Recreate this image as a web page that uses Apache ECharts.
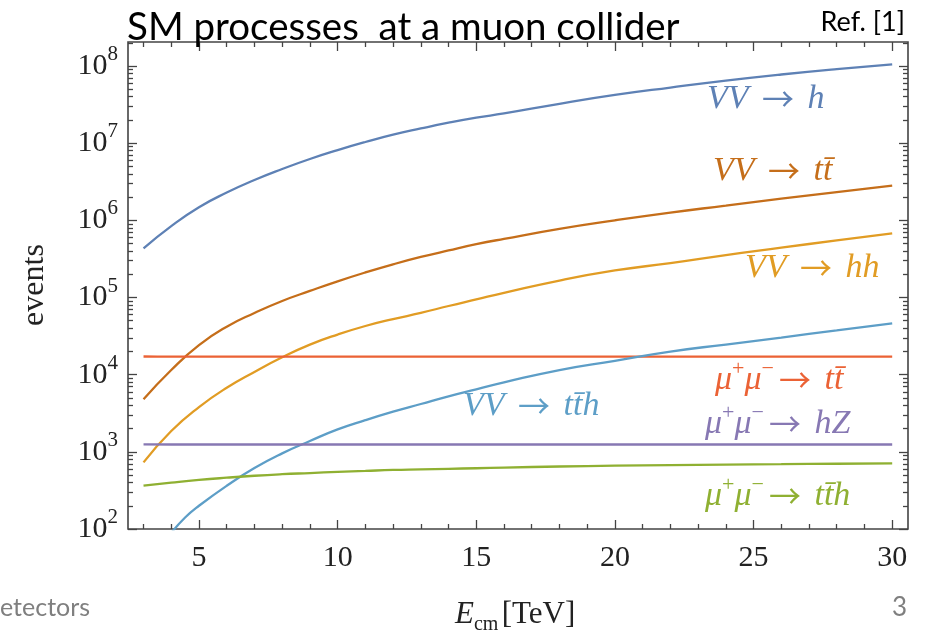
<!DOCTYPE html>
<html><head><meta charset="utf-8">
<script src="https://cdn.jsdelivr.net/npm/echarts@6/dist/echarts.min.js"></script>
<style>html,body{margin:0;padding:0;background:#fff}#c{width:938px;height:631px}</style>
</head><body><div id="c"></div>
<script>
// ---- data (events vs E_cm [TeV]) ----
const energy = [3,4,5,6,7,8,9,10,11,12,13,14,15,16,18,20,22,24,26,28,30];
const vvH   = [4.34e5,8.41e5,1.48e6,2.29e6,3.33e6,4.62e6,6.24e6,8.13e6,1.035e7,1.29e7,1.55e7,1.84e7,2.14e7,2.43e7,3.24e7,4.21e7,5.25e7,6.46e7,7.76e7,9.12e7,1.052e8];
const vvTT  = [4800,1.148e4,2.42e4,4.19e4,6.31e4,9.02e4,1.216e5,1.62e5,2.11e5,2.69e5,3.35e5,4.07e5,4.9e5,5.75e5,7.76e5,1.0e6,1.26e6,1.55e6,1.91e6,2.32e6,2.81e6];
const vvHH  = [731,1862,3802,6761,1.084e4,1.68e4,2.45e4,3.31e4,4.27e4,5.25e4,6.31e4,7.76e4,9.44e4,1.148e5,1.66e5,2.24e5,2.79e5,3.55e5,4.42e5,5.5e5,6.79e5];
const mmTT  = [1.72e4,1.71e4,1.71e4,1.71e4,1.71e4,1.71e4,1.71e4,1.71e4,1.71e4,1.71e4,1.71e4,1.71e4,1.71e4,1.71e4,1.71e4,1.71e4,1.71e4,1.71e4,1.71e4,1.71e4,1.71e4];
const mmHZ  = [1250,1245,1245,1245,1245,1245,1245,1245,1245,1245,1245,1245,1245,1245,1245,1245,1245,1245,1245,1245,1245];
const mmTTH = [364,398,432,462,490,513,531,550,566,582,592,603,613,624,646,661,673,684,692,701,710];
const energyTTH = [4,4.5,5,6,7,8,9,10,11,12,13,14,15,16,18,20,22,24,26,28,30];
const vvTTH = [89,141,200,363,617,955,1380,1950,2570,3311,4169,5248,6457,7943,1.148e4,1.514e4,1.995e4,2.455e4,3.02e4,3.76e4,4.63e4];

// ---- ticks ----
const xMajor = [5,10,15,20,25,30];
const xMinor = [3,4,6,7,8,9,11,12,13,14,16,17,18,19,21,22,23,24,26,27,28,29];
const yMajor = [1e2,1e3,1e4,1e5,1e6,1e7,1e8];
const yMinorMant = [2,3,4,5,6,7,8,9];

const yMinor = [];
yMajor.forEach(d => yMinorMant.forEach(m => { if (d*m <= 2.0e8) yMinor.push(d*m); }));

const colors = {
  vvH:'#5E81B5', vvTT:'#C56E1A', vvHH:'#E19C24', mmTT:'#EB6235',
  vvTTH:'#5D9EC7', mmHZ:'#8778B3', mmTTH:'#8FB032'
};
const serif = '"Liberation Serif", "DejaVu Serif", serif';
const axisCol = '#444';

function xAx(pos, vals, len, showLabel) {
  return {
    type:'value', position: pos, min:2.44, max:30.57,
    axisLine:{show:false}, splitLine:{show:false},
    axisTick:{show:true, inside:true, length:len, customValues: vals, lineStyle:{color:axisCol, width:1.3}},
    axisLabel: showLabel ? {show:true, customValues: xMajor, margin:14, color:'#222',
      fontFamily: serif, fontSize:30} : {show:false}
  };
}
function yAx(pos, vals, len, showLabel) {
  return {
    type:'log', logBase:10, position: pos, min:100, max:2.046e8,
    axisLine:{show:false}, splitLine:{show:false}, minorTick:{show:false},
    axisTick:{show:true, inside:true, length:len, customValues: vals, lineStyle:{color:axisCol, width:1.3}},
    axisLabel: showLabel ? {show:true, customValues: yMajor, margin:10, color:'#222',
      formatter: v => '{b|10}{s|' + Math.round(Math.log10(v)) + '}',
      rich:{ b:{fontFamily:serif, fontSize:30, lineHeight:44, verticalAlign:'middle', color:'#222'},
             s:{fontFamily:serif, fontSize:21, lineHeight:22, verticalAlign:'top', color:'#222'} }
    } : {show:false}
  };
}

function mk(name, xs, ys, col) {
  return {
    name, type:'line', xAxisIndex:0, yAxisIndex:0,
    data: xs.map((x,i)=>[x, ys[i]]),
    showSymbol:false, smooth:0.5, clip:true,
    lineStyle:{color:col, width:2.3}, itemStyle:{color:col}, z:3
  };
}

const chart = echarts.init(document.getElementById('c'), null, {renderer:'canvas'});

const lblRich = (col, lh) => ({
  m:{font:'italic 34px ' + serif, fill:col, lineHeight:lh, verticalAlign:'middle'},
  a:{font:'32px "Noto Sans CJK SC", "DejaVu Sans"', fill:col, lineHeight:lh, verticalAlign:'middle', padding:[0,5,0,5]},
  s:{font:'22px ' + serif, fill:col, lineHeight:22, verticalAlign:'top'}
});
function lbl(text, x, y, col, lh) {
  return {type:'text', x:x, y:y, z:10,
    style:{text, rich: lblRich(col, lh || 40), fill:col, font:'italic 34px ' + serif, align:'left', verticalAlign:'middle'}};
}

chart.setOption({
  animation:false,
  backgroundColor:'#fff',
  grid:{left:128, top:42, width:780, height:487, show:true, borderColor:axisCol, borderWidth:1.6, backgroundColor:'transparent'},
  xAxis:[ xAx('bottom', xMajor, 9, true), xAx('bottom', xMinor, 5, false), xAx('top', xMajor, 9, false), xAx('top', xMinor, 5, false) ],
  yAxis:[ yAx('left', yMajor, 9, true), yAx('left', yMinor, 5, false), yAx('right', yMajor, 9, false), yAx('right', yMinor, 5, false) ],
  series:[
    mk('VV→h', energy, vvH, colors.vvH),
    mk('VV→tt̄', energy, vvTT, colors.vvTT),
    mk('VV→hh', energy, vvHH, colors.vvHH),
    mk('μ+μ−→tt̄', energy, mmTT, colors.mmTT),
    mk('VV→tt̄h', energyTTH, vvTTH, colors.vvTTH),
    mk('μ+μ−→hZ', energy, mmHZ, colors.mmHZ),
    mk('μ+μ−→tt̄h', energy, mmTTH, colors.mmTTH)
  ],
  graphic:[
    {type:'text', x:127, y:28, z:20, style:{text:'SM processes  at a muon collider', font:'38.5px Lato', fill:'#000', verticalAlign:'middle'}},
    {type:'text', x:905, y:22, z:20, style:{text:'Ref. [1]', font:'27px Lato', fill:'#000', align:'right', verticalAlign:'middle'}},
    {type:'text', x:0, y:608, z:20, style:{text:'etectors', font:'25px Lato', fill:'#7f7f7f', verticalAlign:'middle'}},
    {type:'text', x:907, y:608, z:20, style:{text:'3', font:'26px Lato', fill:'#7f7f7f', align:'right', verticalAlign:'middle'}},
    {type:'text', x:35, y:285, rotation:Math.PI/2, z:20, style:{text:'events', font:'32px ' + serif, fill:'#222', align:'center', verticalAlign:'middle'}},
    {type:'text', x:455, y:599, z:20, style:{text:'{e|E}{c|cm} {n|[TeV]}', rich:{
      e:{font:'italic 31px ' + serif, lineHeight:36, verticalAlign:'top', fill:'#222'},
      c:{font:'20px ' + serif, lineHeight:20, verticalAlign:'bottom', fill:'#222'},
      n:{font:'31px ' + serif, lineHeight:36, verticalAlign:'top', fill:'#222'} }}},
    lbl('{m|VV }{a|→}{m| h}', 707, 99, colors.vvH),
    lbl('{m|VV }{a|→}{m| tt̄}', 713, 171, colors.vvTT),
    lbl('{m|VV }{a|→}{m| hh}', 745, 268, colors.vvHH),
    lbl('{m|μ}{s|+}{m|μ}{s|−}{a|→}{m| tt̄}', 715, 380, colors.mmTT, 44),
    lbl('{m|VV }{a|→}{m| tt̄h}', 463, 406, colors.vvTTH),
    lbl('{m|μ}{s|+}{m|μ}{s|−}{a|→}{m| hZ}', 705, 424, colors.mmHZ, 44),
    lbl('{m|μ}{s|+}{m|μ}{s|−}{a|→}{m| tt̄h}', 705, 496, colors.mmTTH, 44)
  ]
});
</script></body></html>
